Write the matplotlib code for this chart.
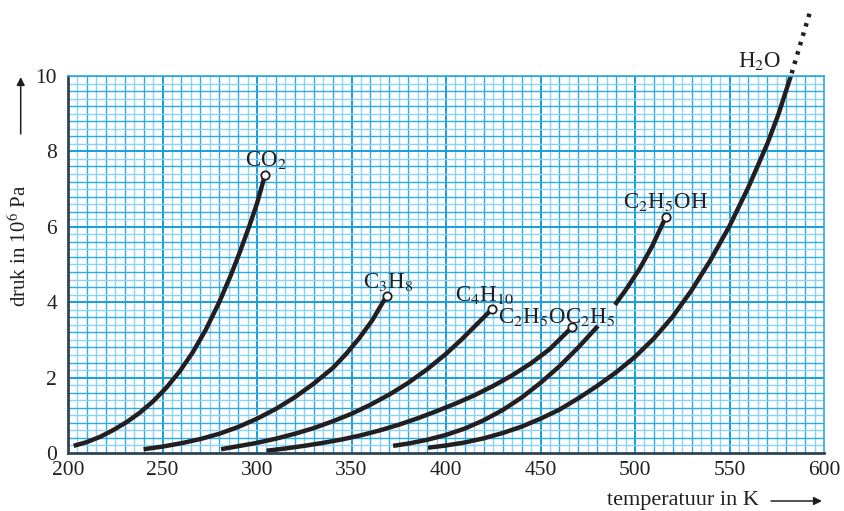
import matplotlib
matplotlib.use("Agg")
import numpy as np
import matplotlib.pyplot as plt

plt.rcParams['font.family'] = ['Liberation Serif', 'DejaVu Serif']
plt.rcParams['mathtext.fontset'] = 'stix'

# temperature (K), pressure (10^6 Pa)
co2_t = [203, 210, 217, 224, 231, 238, 245, 252, 259, 266, 273, 280, 286, 291, 296, 300, 304.2]
co2_p = [0.19, 0.29, 0.43, 0.61, 0.82, 1.07, 1.37, 1.73, 2.16, 2.67, 3.28, 4.0, 4.7, 5.34, 6.03, 6.62, 7.37]

c3h8_t = [240, 250, 260, 270, 280, 290, 300, 310, 320, 330, 340, 347, 354, 361, 368.6]
c3h8_p = [0.1, 0.17, 0.26, 0.37, 0.51, 0.69, 0.91, 1.17, 1.48, 1.84, 2.25, 2.62, 3.04, 3.52, 4.17]

c4h10_t = [281, 290, 300, 310, 320, 330, 340, 350, 360, 370, 380, 390, 400, 408, 416, 424.2]
c4h10_p = [0.1, 0.18, 0.27, 0.38, 0.51, 0.66, 0.84, 1.04, 1.28, 1.55, 1.86, 2.22, 2.63, 3.0, 3.4, 3.81]

ether_t = [305, 315, 325, 335, 345, 355, 365, 375, 385, 395, 405, 415, 425, 435, 445, 455, 466.5]
ether_p = [0.06, 0.12, 0.19, 0.27, 0.36, 0.47, 0.6, 0.75, 0.92, 1.11, 1.31, 1.53, 1.78, 2.06, 2.38, 2.76, 3.33]

# ethanol line is broken where the ether label crosses it
ethanol_t1 = [372, 380, 390, 400, 410, 420, 430, 440, 450, 460, 470, 480.4]
ethanol_p1 = [0.19, 0.25, 0.35, 0.48, 0.65, 0.87, 1.14, 1.47, 1.86, 2.3, 2.8, 3.37]
ethanol_t2 = [489.4, 496, 502.6, 509, 516.4]
ethanol_p2 = [3.93, 4.39, 4.9, 5.48, 6.27]

water_t = [390.5, 400, 410, 420, 430, 440, 450, 460, 470, 480, 490, 500,
           510, 520, 530, 540, 550, 560, 570, 576, 582.9]
water_p = [0.14, 0.2, 0.28, 0.39, 0.53, 0.7, 0.91, 1.15, 1.45, 1.78, 2.14, 2.55,
           3.04, 3.62, 4.32, 5.12, 6.02, 7.05, 8.2, 9.0, 10.07]
water_dot_t = [582.9, 587.5, 592.6]
water_dot_p = [10.07, 10.85, 11.7]

# critical points (open circles)
crit_t = [304.2, 368.6, 424.2, 466.5, 516.4]
crit_p = [7.37, 4.17, 3.81, 3.33, 6.27]

labels = [r'CO$_2$', r'C$_3$H$_8$', r'C$_4$H$_{10}$', r'C$_2$H$_5$OC$_2$H$_5$',
          r'C$_2$H$_5$OH', r'H$_2$O']
label_t = [304.8, 369.3, 420.6, 458.7, 515.9, 566]
label_p = [7.77, 4.54, 4.19, 3.6, 6.66, 10.4]

x_ticks = [200, 250, 300, 350, 400, 450, 500, 550, 600]
y_ticks = [0, 2, 4, 6, 8, 10]

line_col = '#231f20'

fig = plt.figure(figsize=(8.44, 5.11), dpi=100)
ax = fig.add_axes([0.0806, 0.1135, 0.8957, 0.7378])
ax.set_xlim(200, 600)
ax.set_ylim(0, 10)

# millimetre-paper grid
for x in np.arange(205, 600, 5):
    if x % 50 == 0:
        ax.axvline(x, color='#169fdd', lw=1.4, zorder=0)
    elif x % 10 == 0:
        ax.axvline(x, color='#2aace6', lw=1.0, zorder=0)
    else:
        ax.axvline(x, color='#8dd4f4', lw=1.0, zorder=0)
for j in range(1, 51):
    y = j * 0.2
    if j % 10 == 0:
        ax.axhline(y, color='#169fdd', lw=1.4, zorder=0)
    elif j % 2 == 0:
        ax.axhline(y, color='#2aace6', lw=1.0, zorder=0)
    else:
        ax.axhline(y, color='#8dd4f4', lw=1.0, zorder=0)

ax.set_xticks(x_ticks)
ax.set_yticks(y_ticks)
ax.tick_params(which='both', length=0, labelsize=15.5, colors='#231f20')
ax.tick_params(axis='x', pad=6)
ax.tick_params(axis='y', pad=8)

for s in ['top', 'right']:
    ax.spines[s].set_color('#29abe2')
    ax.spines[s].set_linewidth(1.2)
for s in ['left', 'bottom']:
    ax.spines[s].set_color('#2f4454')
    ax.spines[s].set_linewidth(2)

kw = dict(color=line_col, lw=3.2, solid_capstyle='butt', solid_joinstyle='round')
ax.plot(co2_t, co2_p, **kw)
ax.plot(c3h8_t, c3h8_p, **kw)
ax.plot(c4h10_t, c4h10_p, **kw)
ax.plot(ether_t, ether_p, **kw)
ax.plot(ethanol_t1, ethanol_p1, **kw)
ax.plot(ethanol_t2, ethanol_p2, **kw)
ax.plot(water_t, water_p, **kw)
ax.plot(water_dot_t, water_dot_p, color=line_col, lw=3.2, ls=(0, (0.8, 1.4)),
        clip_on=False)

ax.plot(crit_t, crit_p, 'o', ms=6, mfc='white', mec=line_col, mew=1.3, zorder=5)

for txt, t, p in zip(labels, label_t, label_p):
    ax.text(t, p, txt, fontsize=16.5, ha='center', va='center', color=line_col,
            clip_on=False)

# axis titles with long arrows
fig.text(19.5 / 844, 1 - 246 / 511, r'druk in 10$^6$ Pa', rotation=90,
         fontsize=15, ha='center', va='center', color=line_col)
fig.text(683 / 844, 1 - 500 / 511, 'temperatuur in K', fontsize=16,
         ha='center', va='center', color=line_col)
arrow = dict(arrowstyle='-|>', color=line_col, lw=1.1, mutation_scale=12,
             shrinkA=0, shrinkB=0)
fig.add_artist(matplotlib.patches.FancyArrowPatch(
    (20.7 / 844, 1 - 134 / 511), (20.7 / 844, 1 - 77 / 511),
    transform=fig.transFigure, **arrow))
fig.add_artist(matplotlib.patches.FancyArrowPatch(
    (771 / 844, 1 - 501 / 511), (822 / 844, 1 - 501 / 511),
    transform=fig.transFigure, **arrow))

fig.savefig('out.png', dpi=100)
